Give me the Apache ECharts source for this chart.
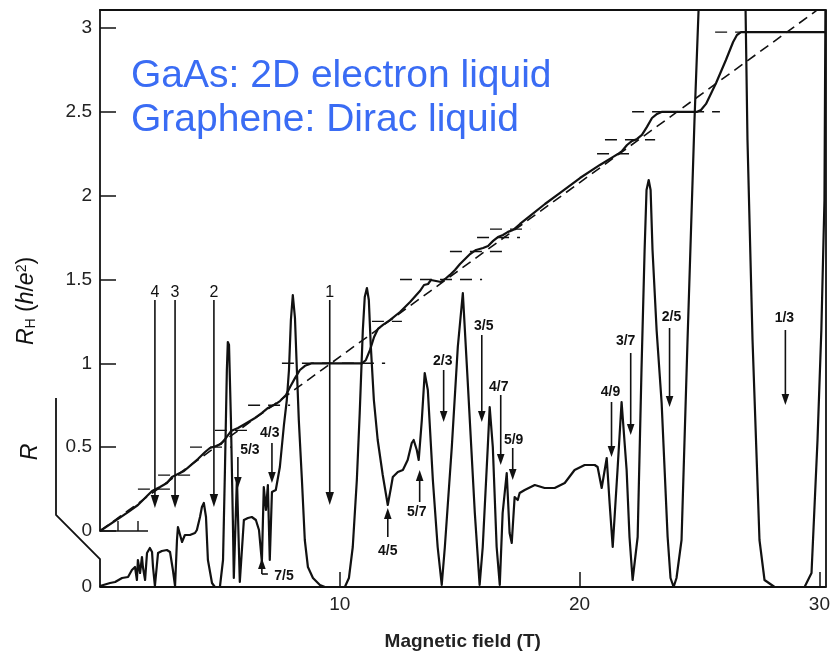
<!DOCTYPE html>
<html>
<head>
<meta charset="utf-8">
<script src="https://cdn.jsdelivr.net/npm/echarts@6/dist/echarts.min.js"></script>
<style>
  html, body { margin: 0; padding: 0; background: #fff; }
  #chart { width: 833px; height: 659px; }
</style>
</head>
<body>
<div id="chart"></div>
<script>
// Longitudinal resistance R (arbitrary units) against magnetic field B (T)
const rField = [0.00,0.42,0.63,0.92,1.17,1.33,1.46,1.54,1.58,1.67,1.75,1.79,1.88,1.96,2.08,2.17,2.21,2.29,2.42,2.58,2.79,2.92,3.04,3.13,3.21,3.25,3.33,3.42,3.54,3.75,3.96,4.04,4.17,4.25,4.33,4.42,4.50,4.67,4.79,5.00,5.13,5.21,5.29,5.33,5.38,5.46,5.54,5.58,5.71,5.83,6.00,6.17,6.33,6.50,6.63,6.75,6.83,6.92,7.00,7.08,7.17,7.33,7.50,7.67,7.79,7.88,7.96,8.04,8.13,8.21,8.29,8.42,8.54,8.67,8.88,9.17,9.38,10.21,10.38,10.54,10.71,10.83,10.96,11.04,11.13,11.21,11.29,11.42,11.58,11.79,12.00,12.13,12.21,12.42,12.63,12.83,13.00,13.08,13.21,13.29,13.42,13.54,13.67,13.88,14.08,14.25,14.38,14.67,14.92,15.13,15.33,15.63,15.83,15.96,16.17,16.25,16.38,16.54,16.67,16.79,16.96,17.00,17.08,17.17,17.29,17.42,17.50,17.71,18.13,18.54,18.96,19.38,19.79,20.21,20.63,20.75,20.92,21.13,21.25,21.38,21.58,21.75,21.96,22.08,22.21,22.42,22.58,22.71,22.79,22.88,22.96,23.04,23.21,23.42,23.67,23.79,23.92,24.04,24.25,24.50,24.79,24.96,25.04,26.83,26.92,27.00,27.21,27.50,27.71,28.13,29.38,29.67,29.92,30.08,30.21,30.25];
const rValue = [0.01,0.04,0.05,0.09,0.10,0.17,0.20,0.07,0.27,0.14,0.30,0.20,0.07,0.34,0.39,0.35,0.20,0.01,0.34,0.36,0.37,0.35,0.17,0.01,0.47,0.60,0.62,0.45,0.52,0.52,0.54,0.57,0.70,0.80,0.84,0.70,0.27,0.04,0.00,0.00,0.27,1.17,2.17,2.45,2.42,1.67,0.67,0.09,1.09,0.05,0.67,0.69,0.70,0.67,0.57,0.25,1.00,0.77,1.02,0.27,0.95,0.97,1.20,1.62,1.87,2.17,2.67,2.92,2.69,2.17,1.67,1.07,0.47,0.20,0.09,0.02,0.00,0.00,0.09,0.40,1.07,1.74,2.57,2.90,2.99,2.87,2.42,1.87,1.47,1.12,0.82,0.99,1.10,1.15,1.17,1.27,1.44,1.47,1.37,1.27,1.67,2.14,1.97,1.07,0.40,0.02,0.40,1.40,2.40,2.94,2.07,0.74,0.02,0.40,1.40,1.80,1.40,0.40,0.02,0.74,1.14,0.94,0.54,0.44,0.90,0.87,0.94,0.97,1.02,0.99,0.99,1.04,1.17,1.22,1.22,1.20,0.99,1.29,0.84,0.40,1.17,1.85,1.17,0.50,0.07,0.50,2.17,3.37,3.97,4.07,3.97,3.37,2.57,1.84,0.50,0.09,0.00,0.09,0.47,2.47,4.67,5.77,6.47,6.47,5.77,4.47,2.47,0.47,0.07,0.00,0.00,0.14,1.47,2.57,3.87,5.77];

// Hall resistance R_H in units of h/e^2
const hallField = [0.00,1.17,1.58,2.00,2.17,2.50,2.79,3.00,3.25,3.50,3.75,4.08,4.38,4.58,4.83,5.04,5.25,5.46,5.75,6.04,6.46,6.75,7.00,7.25,7.50,7.75,7.92,8.13,8.33,8.54,8.83,10.92,11.08,11.25,11.42,11.58,11.79,12.08,12.50,12.92,13.33,13.50,13.67,13.79,14.00,14.21,14.38,14.58,14.79,15.00,15.21,15.42,15.67,15.96,16.17,16.38,16.58,16.79,17.00,17.21,17.50,17.92,18.54,19.17,20.00,20.83,21.38,21.58,21.75,21.96,22.17,22.38,22.58,22.79,23.00,23.21,23.42,24.88,25.04,25.25,25.67,26.08,26.38,26.54,26.71,26.92,30.25];
const hallValue = [0.000,0.113,0.155,0.215,0.239,0.262,0.286,0.322,0.340,0.358,0.388,0.429,0.471,0.495,0.507,0.519,0.555,0.596,0.614,0.638,0.674,0.704,0.734,0.751,0.775,0.811,0.859,0.913,0.960,0.985,1.000,1.000,1.020,1.080,1.157,1.205,1.229,1.258,1.306,1.366,1.431,1.467,1.473,1.497,1.491,1.485,1.503,1.527,1.557,1.592,1.622,1.652,1.676,1.688,1.700,1.730,1.753,1.765,1.784,1.795,1.831,1.879,1.950,2.016,2.105,2.183,2.231,2.248,2.266,2.302,2.326,2.338,2.362,2.410,2.463,2.487,2.500,2.500,2.511,2.547,2.672,2.809,2.916,2.958,2.975,2.975,2.975];

// Classical Hall line
const classicalField = [0, 29.85];
const classicalValue = [0, 3.103];

// Quantized Hall levels (h/e^2) and the field span of each marker
const plateauLevel = [0.25, 0.3333, 0.5, 0.6, 0.75, 1.0, 1.25, 1.5, 1.6667, 1.75, 1.8, 2.25, 2.3333, 2.5, 2.975];
const plateauFrom  = [1.58, 2.42, 3.75, 4.79, 6.17, 7.58, 11.33, 12.50, 14.58, 15.71, 16.25, 20.71, 21.04, 22.17, 25.63];
const plateauTo    = [2.92, 3.83, 5.50, 6.17, 7.92, 11.88, 12.58, 15.92, 17.00, 17.50, 17.92, 22.08, 23.13, 25.83, 30.25];

// Filling-factor arrows: field, tail and tip (R units), label position
const fillingText  = ['4', '3', '2', '1', '5/3', '4/3', '7/5', '4/5', '5/7', '2/3', '3/5', '4/7', '5/9', '4/9', '3/7', '2/5', '1/3'];
const arrowField   = [2.29, 3.13, 4.75, 9.58, 5.75, 7.17, 6.75, 12.00, 13.33, 14.33, 15.92, 16.71, 17.21, 21.33, 22.13, 23.75, 28.58];
const arrowTail    = [2.87, 2.87, 2.87, 2.87, 1.30, 1.44, 0.13, 0.50, 0.85, 2.17, 2.52, 1.92, 1.39, 1.85, 2.34, 2.59, 2.57];
const arrowTip     = [0.79, 0.79, 0.80, 0.82, 0.99, 1.04, 0.29, 0.79, 1.17, 1.65, 1.65, 1.22, 1.07, 1.30, 1.52, 1.80, 1.82];
const arrowHook    = [null, null, null, null, null, null, 7.00, null, null, null, null, null, null, null, null, null, null];
const labelField   = [2.29, 3.13, 4.75, 9.58, 6.25, 7.08, 7.67, 12.00, 13.21, 14.29, 16.00, 16.63, 17.25, 21.29, 21.92, 23.83, 28.54];
const labelLevel   = [2.94, 2.94, 2.94, 2.94, 1.37, 1.54, 0.11, 0.36, 0.75, 2.26, 2.61, 2.00, 1.47, 1.95, 2.46, 2.70, 2.69];

const hallTicks = [0, 0.5, 1, 1.5, 2, 2.5, 3];
const fieldTicks = [10, 20, 30];

const zip = (a, b) => a.map((v, i) => [v, b[i]]);
const INK = '#111';
const FONT = '"Liberation Sans", Arial, Helvetica, sans-serif';

const chart = echarts.init(document.getElementById('chart'), null, { renderer: 'canvas' });

const option = {
  animation: false,
  backgroundColor: '#fff',
  grid: [
    { left: 100, right: 7, top: 10, bottom: 72 },
    { left: 100, right: 7, top: 10, bottom: 128 }
  ],
  xAxis: [
    {
      gridIndex: 0, type: 'value', min: 0, max: 30.25, position: 'bottom',
      axisLine: { onZero: false, lineStyle: { color: INK, width: 1.8 } },
      axisTick: { inside: true, length: 15, customValues: fieldTicks, lineStyle: { color: INK, width: 1.5 } },
      axisLabel: { customValues: fieldTicks, margin: 8, fontSize: 19, color: '#222', fontFamily: FONT },
      splitLine: { show: false },
      name: 'Magnetic field (T)', nameLocation: 'middle', nameGap: 45,
      nameTextStyle: { fontWeight: 'bold', fontSize: 19, color: '#222', fontFamily: FONT }
    },
    {
      gridIndex: 0, type: 'value', min: 0, max: 30.25, position: 'top',
      axisLine: { onZero: false, lineStyle: { color: INK, width: 1.8 } },
      axisTick: { show: false }, axisLabel: { show: false }, splitLine: { show: false }
    },
    { gridIndex: 1, type: 'value', min: 0, max: 30.25, show: false }
  ],
  yAxis: [
    {
      gridIndex: 0, type: 'value', min: 0, max: 5.77,
      axisLine: { show: false }, axisTick: { show: false }, splitLine: { show: false },
      axisLabel: { customValues: [0], margin: 8, fontSize: 19, color: '#222', fontFamily: FONT }
    },
    {
      gridIndex: 0, type: 'value', min: 0, max: 5.77, position: 'right',
      axisLine: { show: true, onZero: false, lineStyle: { color: INK, width: 1.8 } },
      axisTick: { show: false }, axisLabel: { show: false }, splitLine: { show: false }
    },
    {
      gridIndex: 1, type: 'value', min: 0, max: 3.107,
      axisLine: { show: true, onZero: false, lineStyle: { color: INK, width: 1.8 } },
      axisTick: { inside: true, length: 16, customValues: hallTicks, lineStyle: { color: INK, width: 1.5 } },
      axisLabel: { customValues: hallTicks, margin: 8, fontSize: 19, color: '#222', fontFamily: FONT },
      splitLine: { show: false }
    }
  ],
  series: [
    {
      name: 'R', type: 'line', xAxisIndex: 0, yAxisIndex: 0,
      data: zip(rField, rValue), showSymbol: false, symbol: 'none', clip: true,
      lineStyle: { color: INK, width: 2.2, join: 'round' }, z: 3
    },
    {
      name: 'RH', type: 'line', xAxisIndex: 2, yAxisIndex: 2,
      data: zip(hallField, hallValue), showSymbol: false, symbol: 'none',
      lineStyle: { color: INK, width: 2.2, join: 'round' }, z: 4
    },
    {
      name: 'classical', type: 'line', xAxisIndex: 2, yAxisIndex: 2,
      data: zip(classicalField, classicalValue), showSymbol: false, symbol: 'none',
      lineStyle: { color: INK, width: 1.6, type: [10, 6] }, z: 2
    },
    {
      name: 'plateaus', type: 'custom', xAxisIndex: 2, yAxisIndex: 2,
      data: plateauLevel.map((v, i) => [plateauFrom[i], v, plateauTo[i]]),
      renderItem(params, api) {
        const a = api.coord([api.value(0), api.value(1)]);
        const b = api.coord([api.value(2), api.value(1)]);
        return {
          type: 'line',
          shape: { x1: a[0], y1: a[1], x2: b[0], y2: b[1] },
          style: { stroke: INK, lineWidth: 1.4, lineDash: [12, 8] }
        };
      },
      z: 2
    },
    {
      name: 'filling', type: 'custom', xAxisIndex: 0, yAxisIndex: 0,
      data: arrowField.map((f, i) => [f, arrowTail[i], arrowTip[i], labelField[i], labelLevel[i]]),
      renderItem(params, api) {
        const i = params.dataIndex;
        const integer = !fillingText[i].includes('/');
        const tail = api.coord([api.value(0), api.value(1)]);
        const tip = api.coord([api.value(0), api.value(2)]);
        const dir = tip[1] > tail[1] ? 1 : -1;
        const head = integer ? 13 : 11;
        const half = integer ? 4.2 : 3.8;
        const baseY = tip[1] - dir * head;
        const children = [
          { type: 'line', shape: { x1: tail[0], y1: tail[1], x2: tip[0], y2: baseY + dir * 2 },
            style: { stroke: INK, lineWidth: 1.6 } },
          { type: 'polygon', shape: { points: [[tip[0] - half, baseY], [tip[0] + half, baseY], [tip[0], tip[1]]] },
            style: { fill: INK } }
        ];
        if (arrowHook[i] != null) {
          const h = api.coord([arrowHook[i], api.value(1)]);
          children.push({ type: 'line', shape: { x1: tail[0], y1: tail[1], x2: h[0], y2: h[1] },
            style: { stroke: INK, lineWidth: 1.6 } });
        }
        const lp = api.coord([api.value(3), api.value(4)]);
        children.push({
          type: 'text', x: lp[0], y: lp[1],
          style: {
            text: fillingText[i], fill: '#111', align: 'center', verticalAlign: 'middle',
            font: integer ? ('16px ' + FONT) : ('bold 14px "Liberation Sans Narrow", ' + FONT)
          }
        });
        return { type: 'group', children };
      },
      z: 5
    }
  ],
  graphic: [
    { type: 'polyline', shape: { points: [[56, 398], [56, 515], [100, 559], [100, 587]] },
      style: { stroke: INK, lineWidth: 1.8, fill: null } },
    { type: 'polyline', shape: { points: [[100, 531], [148, 531]] },
      style: { stroke: INK, lineWidth: 1.6, fill: null } },
    { type: 'line', shape: { x1: 118, y1: 531, x2: 118, y2: 521 }, style: { stroke: INK, lineWidth: 1.4 } },
    { type: 'line', shape: { x1: 138, y1: 531, x2: 138, y2: 521 }, style: { stroke: INK, lineWidth: 1.4 } },
    {
      type: 'text', x: 27, y: 301, rotation: Math.PI / 2,
      style: {
        text: '{it|R}{sub|H} ({it|h}/{it|e}{sup|2})',
        align: 'center', verticalAlign: 'middle', fill: '#111',
        font: '23px ' + FONT,
        rich: {
          it: { fontStyle: 'italic', fontSize: 23, fontFamily: 'Liberation Sans' },
          sub: { fontSize: 14, verticalAlign: 'bottom', padding: [9, 0, 0, 0] },
          sup: { fontSize: 14, verticalAlign: 'top', padding: [0, 0, 9, 0] }
        }
      }
    },
    {
      type: 'text', x: 31, y: 452, rotation: Math.PI / 2,
      style: { text: 'R', align: 'center', verticalAlign: 'middle', fill: '#111',
        font: 'italic 23px ' + FONT }
    },
    {
      type: 'text', x: 131, y: 76,
      style: { text: 'GaAs: 2D electron liquid', fill: '#3a6cf4', align: 'left', verticalAlign: 'middle',
        font: '39px ' + FONT }
    },
    {
      type: 'text', x: 131, y: 120,
      style: { text: 'Graphene: Dirac liquid', fill: '#3a6cf4', align: 'left', verticalAlign: 'middle',
        font: '39px ' + FONT }
    }
  ]
};

chart.setOption(option);
</script>
</body>
</html>
